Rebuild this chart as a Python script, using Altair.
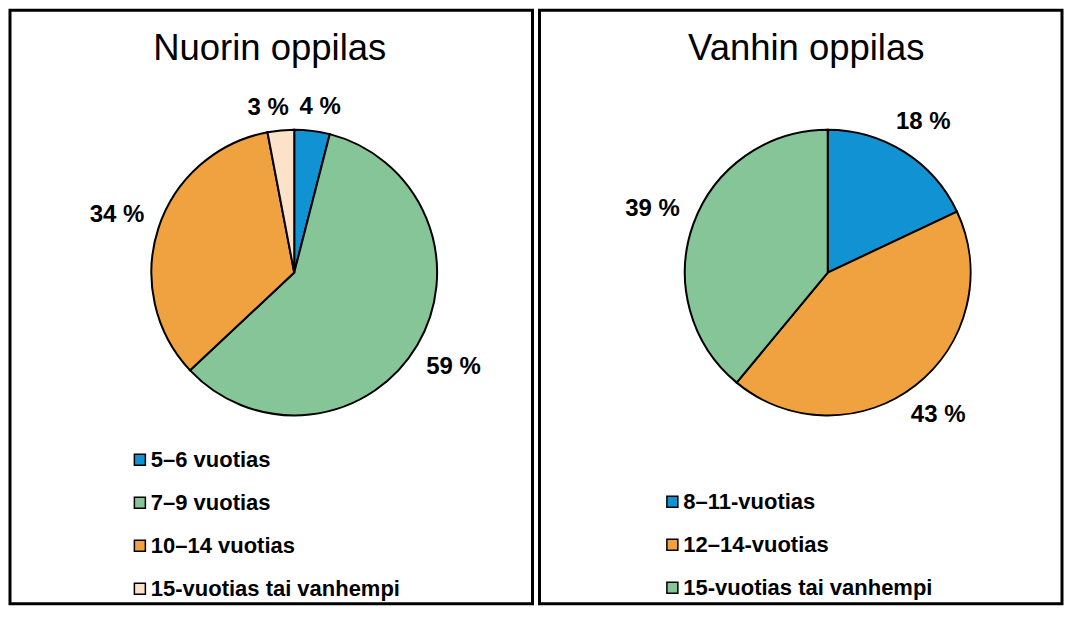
import altair as alt
import pandas as pd

# ---- data ----
left_title = "Nuorin oppilas"
left_cats = ["5–6 vuotias", "7–9 vuotias", "10–14 vuotias", "15-vuotias tai vanhempi"]
left_vals = [4, 59, 34, 3]
left_colors = ["#1192D2", "#86C597", "#EFA23F", "#FCE2C9"]

right_title = "Vanhin oppilas"
right_cats = ["8–11-vuotias", "12–14-vuotias", "15-vuotias tai vanhempi"]
right_vals = [18, 43, 39]
right_colors = ["#1192D2", "#EFA23F", "#86C597"]

FONT = "Liberation Sans"
W, H = 523, 594
R = 143


def panel(title, cats, vals, colors, cx, cy, title_x, title_y, legend_x, legend_y):
    df = pd.DataFrame({"cat": cats, "v": vals, "idx": list(range(len(cats)))})
    base = alt.Chart(df)

    pie = base.mark_arc(radius=R, stroke="black", strokeWidth=2).encode(
        theta=alt.Theta("v:Q", stack=True),
        order=alt.Order("idx:Q"),
        color=alt.Color(
            "cat:N",
            scale=alt.Scale(domain=cats, range=colors),
            legend=alt.Legend(
                orient="none",
                legendX=legend_x,
                legendY=legend_y,
                title=None,
                symbolType="square",
                symbolSize=121,
                symbolStrokeColor="black",
                symbolStrokeWidth=1.5,
                labelFont=FONT,
                labelFontWeight="bold",
                labelFontSize=22,
                labelColor="black",
                labelOffset=0,
                rowPadding=21,
                padding=0,
                labelLimit=400,
            ),
        ),
        x=alt.value(cx),
        y=alt.value(cy),
    )

    # label angle = slice middle; radius so that the label box sits just outside
    # the pie; labels straddling 12 o'clock are pushed apart sideways
    labels = (
        base.transform_joinaggregate(total="sum(v)")
        .transform_window(cum="sum(v)", sort=[alt.SortField("idx")], frame=[None, 0])
        .transform_calculate(
            mid="datum.cum - datum.v/2",
            a="2*PI*(datum.cum - datum.v/2)/datum.total",
            label="datum.v + ' %'",
        )
        .transform_calculate(
            r="159 + 6.75*length(datum.label)*abs(sin(datum.a)) + 6*abs(cos(datum.a))"
        )
        .transform_calculate(
            mid2="(abs(datum.r*sin(datum.a)) < 26 && cos(datum.a) > 0) ? "
                 "((sin(datum.a) >= 0 ? asin(26/datum.r) : 2*PI - asin(26/datum.r)) * datum.total/(2*PI)) "
                 ": datum.mid"
        )
        .mark_text(font=FONT, fontSize=24, fontWeight="bold", color="black",
                   baseline="middle", align="center")
        .encode(
            theta=alt.Theta("mid2:Q", stack=None),
            radius=alt.Radius("r:Q", scale=None),
            text="label:N",
            x=alt.value(cx),
            y=alt.value(cy),
        )
    )

    ttl = (
        alt.Chart(pd.DataFrame({"t": [title]}))
        .mark_text(font=FONT, fontSize=36.5, color="black", baseline="alphabetic", align="center")
        .encode(text="t:N", x=alt.value(title_x), y=alt.value(title_y))
    )

    return alt.layer(pie, labels, ttl).properties(width=W, height=H)


left = panel(left_title, left_cats, left_vals, left_colors,
             cx=284.5, cy=262.5, title_x=260, title_y=49.5, legend_x=119, legend_y=439)
right = panel(right_title, right_cats, right_vals, right_colors,
              cx=288.5, cy=262.5, title_x=267, title_y=49.5, legend_x=122, legend_y=481)

chart = (
    alt.hconcat(left, right, spacing=3)
    .resolve_scale(color="independent", theta="independent", radius="independent")
    .properties(padding=0, background="white")
    .configure_view(stroke="black", strokeWidth=3)
)

chart.save("out.html", embed_options={"renderer": "svg", "actions": False})
